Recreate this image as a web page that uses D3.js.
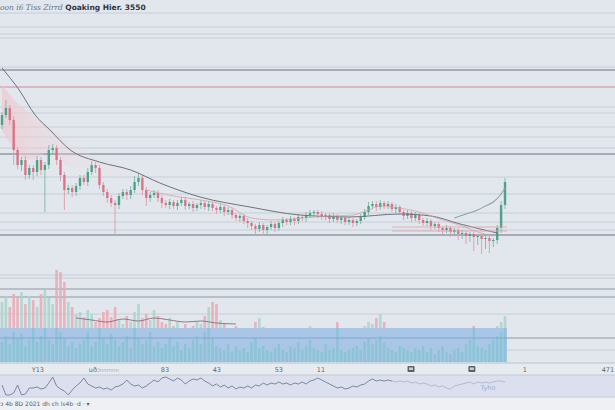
<!DOCTYPE html>
<html><head><meta charset="utf-8">
<script src="https://cdn.jsdelivr.net/npm/d3@7/dist/d3.min.js"></script>
<style>html,body{margin:0;padding:0;background:#eef1f4;}svg{display:block;}</style>
</head><body>
<script>
// ---------- data ----------
const firstOpen = 125;
const closes = [135,142,130,100,85,90,75,82,78,90,
 80,85,100,102,90,75,60,62,58,64,
 72,68,78,85,82,65,58,52,47,45,
 54,58,55,60,68,72,60,52,55,57,
 52,47,45,48,44,47,50,44,46,42,
 45,47,43,46,42,40,43,38,40,35,
 32,34,29,27,24,21,25,20,23,26,
 22,27,30,28,31,29,33,32,35,37,
 38,36,33,35,31,34,30,32,28,30,
 27,29,33,38,44,46,43,47,44,46,
 41,43,38,34,37,32,35,30,27,29,
 24,26,22,20,22,18,20,16,17,14,
 16,13,14,11,12,9,10,22,45,68];
const wickUp = [3,8,3,4,3,3,4,3,3,4, 3,3,5,4,3,3,3,3,3,3, 3,3,4,4,3,3,3,3,3,3,
 3,3,3,4,6,5,3,3,3,3, 3,3,3,3,2,3,3,3,2,3, 2,3,2,3,2,2,3,2,3,2,
 2,2,2,3,2,2,3,2,2,3, 2,2,3,2,3,2,3,2,3,3, 2,2,3,2,2,3,2,2,2,3,
 2,2,3,3,4,3,3,3,2,3, 2,3,2,2,3,2,3,2,2,3, 2,2,2,2,3,2,2,2,3,2,
 2,2,2,2,2,2,2,3,4,4];
const wickDn = [4,3,5,15,4,6,5,4,8,4, 5,42,4,3,5,6,20,4,5,4, 4,3,4,3,5,4,4,5,4,30,
 4,3,5,4,3,4,5,8,4,3, 4,5,3,4,3,4,3,4,3,4, 3,4,3,4,3,4,3,4,3,4,
 3,4,3,5,4,6,3,5,4,3, 4,3,4,3,3,4,3,3,4,3, 3,4,3,3,4,3,3,4,3,3,
 4,3,3,3,3,3,4,3,3,3, 3,4,3,4,3,4,3,4,3,3, 4,3,4,4,3,5,4,6,5,8,
 6,14,8,15,10,12,6,4,5,4];
const volume = [60,66,55,68,64,70,58,66,62,55,
 68,72,64,58,92,90,80,60,55,48,
 50,45,52,48,40,44,50,52,45,55,
 42,38,46,40,50,58,44,48,42,52,
 46,40,38,44,36,40,34,38,32,36,
 40,38,46,55,60,58,42,38,34,30,
 36,28,32,26,30,40,44,35,30,28,
 26,32,30,28,26,34,30,28,32,36,
 30,28,26,32,30,26,40,28,26,24,
 28,30,26,36,40,38,44,48,40,32,
 28,26,34,30,26,24,28,26,30,24,
 26,22,28,30,24,22,26,28,24,30,
 34,36,30,28,26,30,34,36,40,46];
const innerVolume = [20,26,18,30,24,28,16,22,34,20,
 26,34,22,18,34,30,24,16,20,14,
 18,22,30,16,20,34,24,18,28,22,
 16,20,26,14,34,24,18,22,30,16,
 20,14,18,24,16,20,12,18,14,22,
 26,18,30,34,24,16,14,12,18,10,
 16,12,14,10,20,24,14,16,12,10,
 14,18,12,10,16,14,20,12,16,22,
 14,12,10,18,12,14,34,12,10,12,
 14,16,12,20,24,18,22,26,20,14,
 12,10,16,14,12,10,14,12,16,10,
 14,8,12,16,10,8,12,14,10,18,
 22,34,16,14,12,18,22,26,30,34];
const oscillator = [12,2,2,4,12,2,3,9,9,10,
 8,9,14,20,11,8,6,2,7,11,
 14,19,13,11,9,10,8,9,7,10,
 11,13,17,13,11,12,9,11,14,17,
 15,19,20,18,16,19,17,13,16,18,
 17,19,16,14,11,13,10,12,9,11,
 8,10,9,11,9,12,11,14,12,14,
 13,15,13,14,12,14,13,15,13,16,
 17,19,17,15,13,11,9,10,8,9,
 11,10,12,13,16,18,16,17,16,17,
 16,15,16,15,16,14,15,13,14,13,
 11,12,10,11,9,8,11,12,13,14,
 15,13,15,14,15,14,15,16,16,15];
// slow moving average [candle index, price]
const maSlow = [[0,182],[4.4,160],[8.5,135],[12.3,120],[17.5,100],[25,88],[33,80],[40.5,67],[50.8,53],[63.6,43],[76.4,35],[89,33],[102,36],[110,34],[117.5,26],[127,17]];
// fast moving average
const maFast = [[37,60],[44,54],[51,50],[58,44],[64,32],[70,30],[77,32],[84,34],[90,35],[94,40],[97,44],[102,42],[107,38],[113,30],[118,24],[122,18],[126,14]];
// upper envelope at the end
const upperBand = [[116,32],[119,36],[122,40],[124,44],[126,48],[128,56],[129,62]];
// pink cloud [index, top, bottom]
const cloud = [[0,165,120],[3,150,100],[6,140,88],[10,128,92],[13,122,105],[16,110,80],[22,96,85],[30,85,70],[36,78,74]];
// volume moving average
const volMA = [[19,44],[23,42],[27,40],[31,43],[35,41],[39,44],[43,42],[47,40],[51,41],[55,39],[60,38]];
// horizontal levels
const priceGrid = [237,223,216,212,183,143,137,123,113,102,73,56,37,28,20];
const priceMajor = [180,96,15];
const priceAlert = [163];
const alertShort = [23,19];
const volGrid = [87,84,48,12];
const volMajor = [73,65,24];
const bandLevel = 34;
const axisLabels = [["Y13",9.2],["uð",23.3],["83",41.8],["43",55.1],["53",71],["11",81.8],["1",134.1],["471",155.4]];
const axisIcons = [104.9,120.5];
const titleLight = "oon  i6 Tiss Zirrd";
const titleBold = "Qoaking Hier. 3550";
const footer = "ɔ 4b 8D 2021 dh    ch ls4b ·d ·  ▾";
const oscLabel = "Tyho";

// ---------- drawing ----------
const W = 615, H = 410;
const svg = d3.select("body").append("svg").attr("width", W).attr("height", H);
const x = d3.scaleLinear().domain([0, 129]).range([2, 505]);
const yP = d3.scaleLinear().domain([0, 200]).range([250, 50]);
const yV = d3.scaleLinear().domain([0, 100]).range([362, 262]);
const yO = d3.scaleLinear().domain([0, 22]).range([397, 375]);
const xEnd = x(129) + 2;

svg.append("rect").attr("width", W).attr("height", H).attr("fill", "#e1e7ed");
svg.append("rect").attr("x", 0).attr("y", yV(0)).attr("width", W).attr("height", yO(22) - yV(0)).attr("fill", "#e6ebf0");
svg.append("rect").attr("x", 0).attr("y", yO(22)).attr("width", W).attr("height", yO(0) - yO(22)).attr("fill", "#dcdfed");
svg.append("rect").attr("x", 0).attr("y", yO(0)).attr("width", W).attr("height", H - yO(0)).attr("fill", "#eef0f3");

const g = svg.append("g");
function hline(y, color, w) {
  g.append("line").attr("x1", 0).attr("x2", W).attr("y1", y).attr("y2", y)
    .attr("stroke", color).attr("stroke-width", w);
}
priceGrid.forEach(p => hline(yP(p), "#c6ced8", 1));
priceMajor.forEach(p => hline(yP(p), "#8f98a4", 1.6));
priceAlert.forEach(p => hline(yP(p), "#d8a9b3", 1.6));
volGrid.forEach(v => hline(yV(v), "#c6ced8", 1));
volMajor.forEach(v => hline(yV(v), "#a9b2bd", 1.3));
hline(yV(0) + 1, "#b8c0ca", 1);
hline(yO(22), "#c2c9d3", 1);
hline(yO(0), "#c8cdd8", 1);

// pink cloud
const defs = svg.append("defs");
const grad = defs.append("linearGradient").attr("id", "pk").attr("x1", 0).attr("x2", 1).attr("y1", 0).attr("y2", 0);
grad.append("stop").attr("offset", "0%").attr("stop-color", "#f0c6ce").attr("stop-opacity", 0.7);
grad.append("stop").attr("offset", "35%").attr("stop-color", "#f0d0d6").attr("stop-opacity", 0.35);
grad.append("stop").attr("offset", "100%").attr("stop-color", "#f2dadf").attr("stop-opacity", 0.05);
g.append("path").datum(cloud)
  .attr("d", d3.area().curve(d3.curveBasis).x(d => x(d[0])).y0(d => yP(d[2])).y1(d => yP(d[1])))
  .attr("fill", "url(#pk)");

// candles
const candles = closes.map((c, i) => {
  const o = i === 0 ? firstOpen : closes[i - 1];
  return { i, o, c, h: Math.max(o, c) + wickUp[i], l: Math.min(o, c) - wickDn[i] };
});
const upC = "#3d9a7c", dnC = "#d8677c";
const cg = g.append("g");
cg.selectAll("line").data(candles).join("line")
  .attr("x1", d => x(d.i)).attr("x2", d => x(d.i))
  .attr("y1", d => yP(d.h)).attr("y2", d => yP(d.l))
  .attr("stroke", d => d.c >= d.o ? "#7ab8a4" : "#e09aa6").attr("stroke-width", 0.9);
cg.selectAll("rect").data(candles).join("rect")
  .attr("x", d => x(d.i) - 1.2).attr("width", 2.4)
  .attr("y", d => yP(Math.max(d.o, d.c)))
  .attr("height", d => Math.max(1, Math.abs(yP(d.o) - yP(d.c))))
  .attr("fill", d => d.c >= d.o ? upC : dnC).attr("opacity", 0.85);

// moving averages
const lineGen = d3.line().curve(d3.curveMonotoneX).x(d => x(d[0])).y(d => yP(d[1]));
g.append("path").datum(maSlow).attr("d", lineGen).attr("fill", "none").attr("stroke", "#6e747c").attr("stroke-width", 1);
g.append("path").datum(maFast).attr("d", lineGen).attr("fill", "none").attr("stroke", "#d79aa6").attr("stroke-width", 0.9).attr("opacity", 0.8);
g.append("path").datum(upperBand).attr("d", lineGen).attr("fill", "none").attr("stroke", "#8fa79e").attr("stroke-width", 1.1);
alertShort.forEach(p => g.append("line").attr("x1", x(100)).attr("x2", xEnd).attr("y1", yP(p)).attr("y2", yP(p)).attr("stroke", "#dfa0ab").attr("stroke-width", 0.8));

// volume
const vg = g.append("g");
vg.selectAll("rect").data(candles).join("rect")
  .attr("x", d => x(d.i) - 1.3).attr("width", 2.6)
  .attr("y", d => yV(volume[d.i])).attr("height", d => yV(0) - yV(volume[d.i]))
  .attr("fill", d => d.c >= d.o ? "#a9d4cb" : "#eba8b3").attr("opacity", 0.85);
g.append("rect").attr("x", 0).attr("y", yV(bandLevel)).attr("width", xEnd).attr("height", yV(0) - yV(bandLevel))
  .attr("fill", "#a9c6e7");
g.append("g").selectAll("rect").data(candles).join("rect")
  .attr("x", d => x(d.i) - 1.2).attr("width", 2.4)
  .attr("y", d => yV(innerVolume[d.i])).attr("height", d => yV(0) - yV(innerVolume[d.i]))
  .attr("fill", "#86c3d3").attr("opacity", 0.9);
g.append("line").attr("x1", 0).attr("x2", xEnd).attr("y1", yV(24)).attr("y2", yV(24)).attr("stroke", "#7fa6cf").attr("stroke-width", 1);
g.append("path").datum(volMA)
  .attr("d", d3.line().curve(d3.curveMonotoneX).x(d => x(d[0])).y(d => yV(d[1])))
  .attr("fill", "none").attr("stroke", "#8a6b78").attr("stroke-width", 0.9);

// oscillator
g.append("path").datum(oscillator.slice(0, 101))
  .attr("d", d3.line().x((d, i) => x(i)).y(d => yO(d)))
  .attr("fill", "none").attr("stroke", "#7a889d").attr("stroke-width", 1);
g.append("path").datum(oscillator.slice(100))
  .attr("d", d3.line().x((d, i) => x(i + 100)).y(d => yO(d)))
  .attr("fill", "none").attr("stroke", "#b3bccb").attr("stroke-width", 1);

// axis labels
const ag = svg.append("g").attr("font-family", "DejaVu Sans, sans-serif").attr("font-size", 6.5).attr("fill", "#5f6772");
axisLabels.forEach(([t, i]) => ag.append("text").attr("x", x(i)).attr("y", 372).attr("text-anchor", "middle").text(t));
ag.append("text").attr("x", x(27)).attr("y", 372).attr("text-anchor", "middle").attr("fill", "#a6adb8").attr("font-size", 5.5).text("Onnmnn");
axisIcons.forEach(i => {
  ag.append("rect").attr("x", x(i) - 3.5).attr("y", 366).attr("width", 7).attr("height", 6).attr("rx", 1).attr("fill", "#5a626d");
  ag.append("rect").attr("x", x(i) - 2).attr("y", 367.5).attr("width", 4).attr("height", 2.5).attr("fill", "#c9cfd7");
});
svg.append("text").attr("x", 488).attr("y", 390).attr("text-anchor", "middle")
  .attr("font-family", "DejaVu Sans, sans-serif").attr("font-size", 6.5).attr("fill", "#8fb6df").text(oscLabel);

// title
const tt = svg.append("text").attr("x", 0).attr("y", 10).attr("font-size", 7.5);
tt.append("tspan").attr("font-family", "DejaVu Serif, serif").attr("font-style", "italic").attr("fill", "#6b7280").text(titleLight + "  ");
tt.append("tspan").attr("font-family", "DejaVu Sans, sans-serif").attr("font-weight", "bold").attr("fill", "#30353c").text(titleBold);

// footer
svg.append("text").attr("x", 0).attr("y", 406).attr("font-family", "DejaVu Sans, sans-serif")
  .attr("font-size", 6).attr("fill", "#555c66").text(footer);
</script>
</body></html>
